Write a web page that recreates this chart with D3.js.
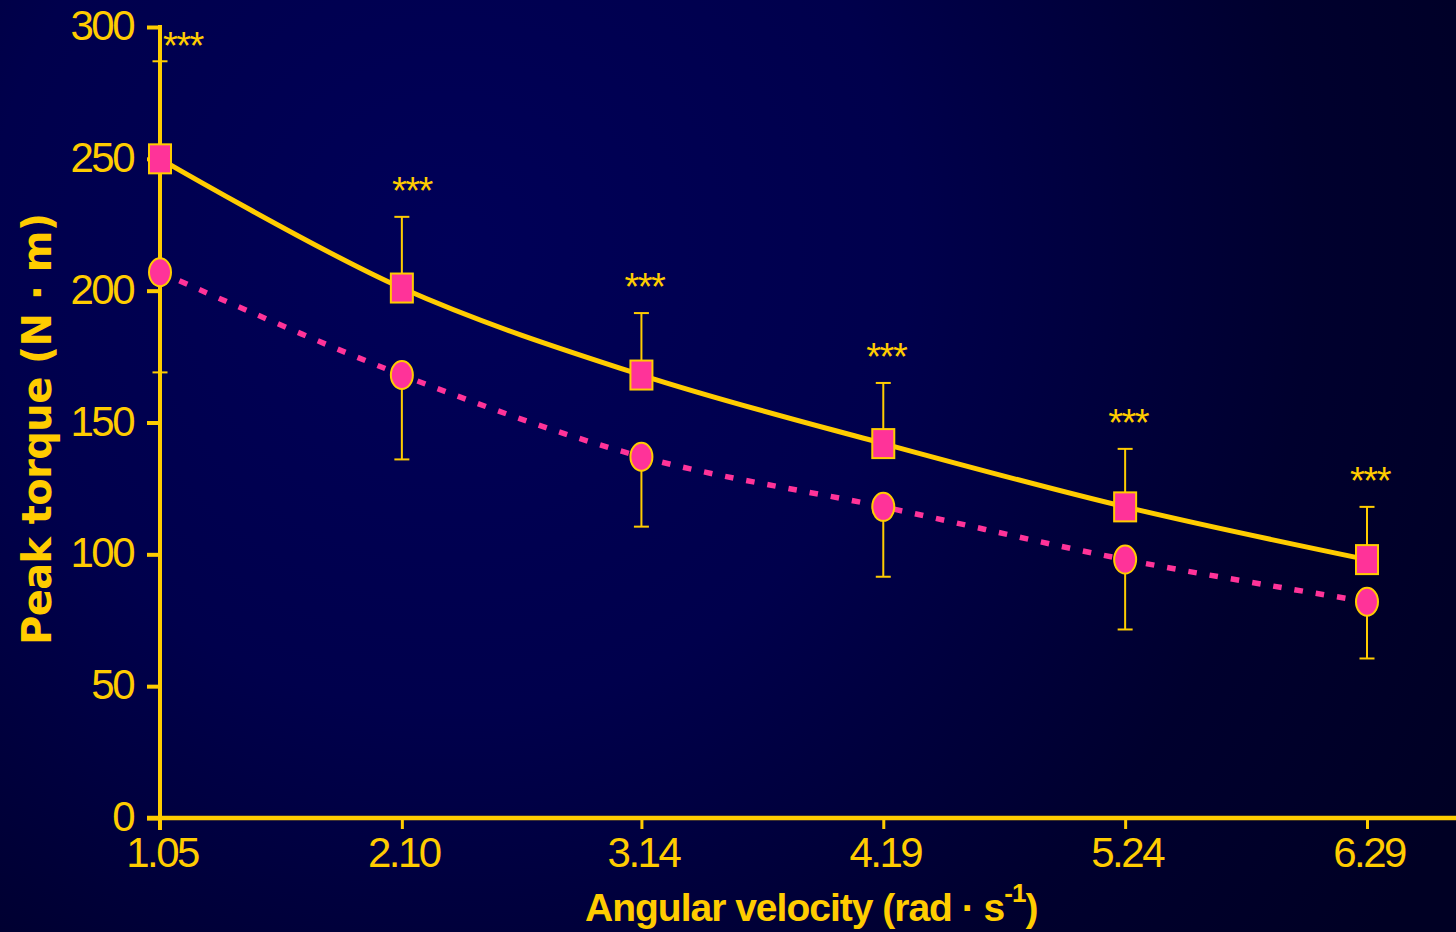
<!DOCTYPE html>
<html>
<head>
<meta charset="utf-8">
<script src="https://cdn.jsdelivr.net/npm/d3@7"></script>
<style>
html,body{margin:0;padding:0;background:#000030;}
svg{display:block;}
</style>
</head>
<body>
<script>
// ---- data ----
const velocities = [1.05, 2.10, 3.14, 4.19, 5.24, 6.29];
const tickLabels = ["1.05", "2.10", "3.14", "4.19", "5.24", "6.29"];
const yTicks = [0, 50, 100, 150, 200, 250, 300];
const squareMean = [250, 201, 168, 142, 118, 98];
const squareUpper = [287, 228, 191.5, 165, 140, 118];
const circleMean = [207, 168, 137, 118, 98, 82];
const circleLower = [169, 136, 110.5, 91.5, 71.5, 60.5];
const significance = ["***", "***", "***", "***", "***", "***"];

const W = 1456, H = 932;
const yellow = "#ffcc00", pink = "#ff3399";

const svg = d3.select("body").append("svg").attr("width", W).attr("height", H);
const defs = svg.append("defs");
const grad = defs.append("radialGradient").attr("id", "bg")
  .attr("gradientUnits", "userSpaceOnUse")
  .attr("cx", 450).attr("cy", 250).attr("r", 1150);
grad.append("stop").attr("offset", 0).attr("stop-color", "#000058");
grad.append("stop").attr("offset", 0.4).attr("stop-color", "#00004c");
grad.append("stop").attr("offset", 0.75).attr("stop-color", "#00002e");
grad.append("stop").attr("offset", 1).attr("stop-color", "#000024");
svg.append("rect").attr("width", W).attr("height", H).attr("fill", "url(#bg)");

const x = d3.scaleLinear().domain([1.05, 6.29]).range([160, 1367]);
const y = d3.scaleLinear().domain([0, 300]).range([818, 27]);

// axes
const yAxis = svg.append("g").attr("transform", "translate(160,0)")
  .call(d3.axisLeft(y).tickValues(yTicks).tickSize(13).tickFormat(""));
yAxis.select(".domain").remove();
yAxis.selectAll(".tick line").attr("stroke", yellow).attr("stroke-width", 4);
svg.append("line").attr("x1", 160).attr("x2", 160).attr("y1", y(300) - 2).attr("y2", 830)
  .attr("stroke", yellow).attr("stroke-width", 4);

const xAxis = svg.append("g").attr("transform", "translate(0,818)")
  .call(d3.axisBottom(x).tickValues(velocities).tickSize(11).tickFormat(""));
xAxis.select(".domain").remove();
xAxis.selectAll(".tick line").attr("stroke", yellow).attr("stroke-width", 3);
svg.append("line").attr("x1", 147).attr("x2", W).attr("y1", 818).attr("y2", 818)
  .attr("stroke", yellow).attr("stroke-width", 4.5);

const tickFont = "'Liberation Sans', Arial, sans-serif";
svg.append("g").selectAll("text").data(yTicks).join("text")
  .attr("x", 133).attr("y", d => y(d) + 13)
  .attr("text-anchor", "end")
  .attr("font-family", tickFont).attr("font-size", 42).attr("letter-spacing", "-2.5px")
  .attr("fill", yellow).text(d => d);
svg.append("g").selectAll("text").data(velocities).join("text")
  .attr("x", d => x(d) + 2).attr("y", 867)
  .attr("text-anchor", "middle")
  .attr("font-family", tickFont).attr("font-size", 42).attr("letter-spacing", "-2.5px")
  .attr("fill", yellow).text((d, i) => tickLabels[i]);

// axis titles
svg.append("text")
  .attr("transform", "translate(51,429) rotate(-90)")
  .attr("text-anchor", "middle")
  .attr("font-family", "'DejaVu Sans', Verdana, sans-serif").attr("font-weight", "bold")
  .attr("font-size", 40).attr("fill", yellow)
  .attr("textLength", 432).attr("lengthAdjust", "spacing")
  .text("Peak torque (N · m)");

const xt = svg.append("text").attr("x", 585).attr("y", 921)
  .attr("font-family", "'Liberation Sans', Arial, sans-serif").attr("font-weight", "bold")
  .attr("font-size", 39).attr("letter-spacing", "-1px").attr("fill", yellow);
xt.append("tspan").text("Angular velocity (rad · s");
xt.append("tspan").attr("font-size", 26).attr("dy", -19).text("-1");
xt.append("tspan").attr("dy", 19).text(")");

// error bars
const cap = 7.5;
function errBars(means, ends) {
  const g = svg.append("g").attr("stroke", yellow).attr("stroke-width", 2);
  velocities.forEach((v, i) => {
    g.append("line").attr("x1", x(v)).attr("x2", x(v)).attr("y1", y(means[i])).attr("y2", y(ends[i]));
    g.append("line").attr("x1", x(v) - cap).attr("x2", x(v) + cap).attr("y1", y(ends[i])).attr("y2", y(ends[i]));
  });
}
errBars(squareMean, squareUpper);
errBars(circleMean, circleLower);

// lines
const lineGen = d3.line().x((d, i) => x(velocities[i])).y(d => y(d)).curve(d3.curveCatmullRom.alpha(0.5));
svg.append("path").datum(circleMean).attr("d", lineGen)
  .attr("fill", "none").attr("stroke", pink).attr("stroke-width", 5.5)
  .attr("stroke-dasharray", "8.5,13");
svg.append("path").datum(squareMean).attr("d", lineGen)
  .attr("fill", "none").attr("stroke", yellow).attr("stroke-width", 5);

// markers
svg.append("g").selectAll("ellipse").data(circleMean).join("ellipse")
  .attr("cx", (d, i) => x(velocities[i])).attr("cy", d => y(d))
  .attr("rx", 11).attr("ry", 14)
  .attr("fill", pink).attr("stroke", yellow).attr("stroke-width", 2);
svg.append("g").selectAll("rect").data(squareMean).join("rect")
  .attr("x", (d, i) => x(velocities[i]) - 11).attr("y", d => y(d) - 14.5)
  .attr("width", 22).attr("height", 29)
  .attr("fill", pink).attr("stroke", yellow).attr("stroke-width", 2);

// significance stars
svg.append("g").selectAll("text").data(significance).join("text")
  .attr("x", (d, i) => i === 0 ? x(velocities[i]) + 3 : x(velocities[i]) + (i === 1 ? 10 : 3))
  .attr("y", (d, i) => i === 0 ? y(squareUpper[i]) - 2 : y(squareUpper[i]) - 13)
  .attr("text-anchor", (d, i) => i === 0 ? "start" : "middle")
  .attr("font-family", tickFont).attr("font-size", 38).attr("letter-spacing", "-1.5px")
  .attr("fill", yellow).text(d => d);
</script>
</body>
</html>
